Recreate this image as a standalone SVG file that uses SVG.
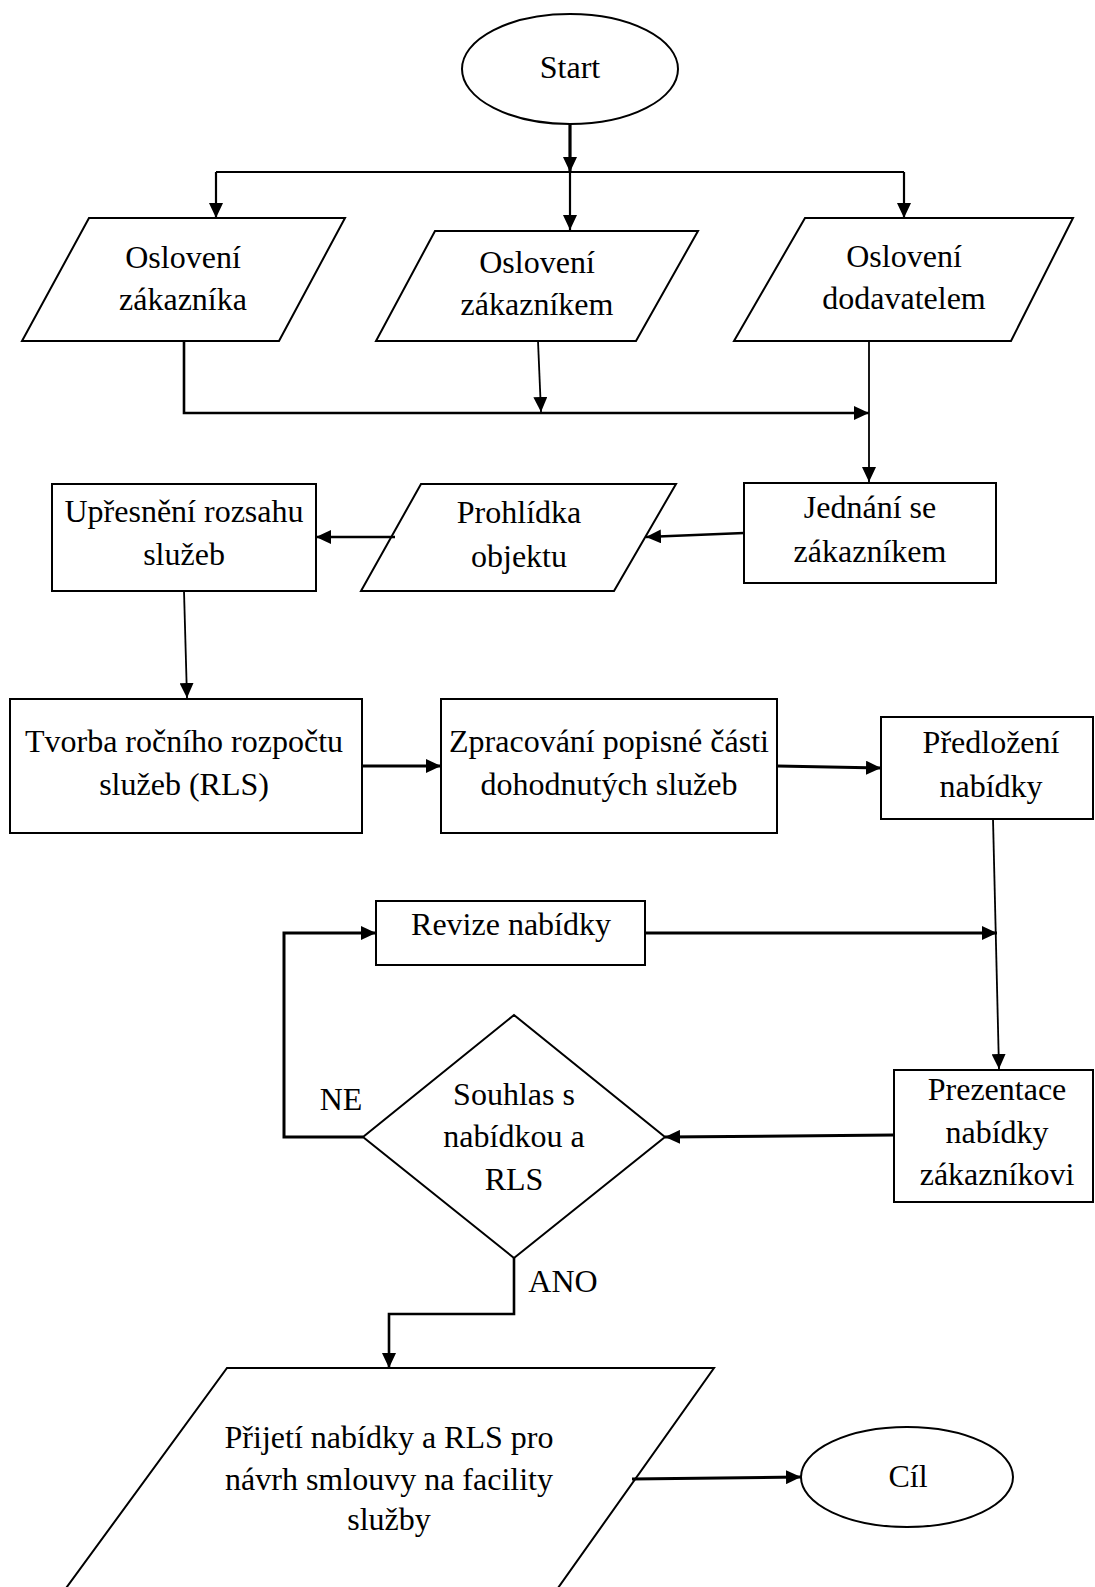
<svg xmlns="http://www.w3.org/2000/svg" width="1095" height="1587" viewBox="0 0 1095 1587">
<style>
.s{fill:#fff;stroke:#000;stroke-width:2}
.t{font-family:"Liberation Serif","Times New Roman",serif;font-size:32px;fill:#000;text-anchor:middle}
.c{fill:none;stroke:#000;stroke-width:2.6}
.n{fill:none;stroke:#000;stroke-width:1.8}
</style>
<defs>
<marker id="a" markerUnits="userSpaceOnUse" markerWidth="16" markerHeight="14" refX="15" refY="7" orient="auto">
<path d="M0,0 L15,7 L0,14 z" fill="#000"/>
</marker>
</defs>
<rect width="1095" height="1587" fill="#fff"/>
<g id="start"><ellipse class="s" cx="570" cy="69" rx="108" ry="55"/><text class="t" x="570" y="78">Start</text></g>
<g id="osloveni-zakaznika"><polygon class="s" points="89,218 345,218 279,341 22,341"/><text class="t" x="183" y="268">Oslovení</text><text class="t" x="183" y="310">zákazníka</text></g>
<g id="osloveni-zakaznikem"><polygon class="s" points="435,231 698,231 636,341 376,341"/><text class="t" x="537" y="273">Oslovení</text><text class="t" x="537" y="315">zákazníkem</text></g>
<g id="osloveni-dodavatelem"><polygon class="s" points="805,218 1073,218 1011,341 734,341"/><text class="t" x="904" y="267">Oslovení</text><text class="t" x="904" y="309">dodavatelem</text></g>
<g id="jednani"><rect class="s" x="744" y="483" width="252" height="100"/><text class="t" x="870" y="518">Jednání se</text><text class="t" x="870" y="562">zákazníkem</text></g>
<g id="prohlidka"><polygon class="s" points="421,484 676,484 614,591 361,591"/><text class="t" x="519" y="523">Prohlídka</text><text class="t" x="519" y="567">objektu</text></g>
<g id="upresneni"><rect class="s" x="52" y="484" width="264" height="107"/><text class="t" x="184" y="522">Upřesnění rozsahu</text><text class="t" x="184" y="565">služeb</text></g>
<g id="tvorba"><rect class="s" x="10" y="699" width="352" height="134"/><text class="t" x="184" y="752">Tvorba ročního rozpočtu</text><text class="t" x="184" y="795">služeb (RLS)</text></g>
<g id="zpracovani"><rect class="s" x="441" y="699" width="336" height="134"/><text class="t" x="609" y="752">Zpracování popisné části</text><text class="t" x="609" y="795">dohodnutých služeb</text></g>
<g id="predlozeni"><rect class="s" x="881" y="717" width="212" height="102"/><text class="t" x="991" y="753">Předložení</text><text class="t" x="991" y="797">nabídky</text></g>
<g id="revize"><rect class="s" x="376" y="901" width="269" height="64"/><text class="t" x="511" y="935">Revize nabídky</text></g>
<g id="souhlas"><polygon class="s" points="514,1015 665,1137 514,1258 363,1137"/><text class="t" x="514" y="1105">Souhlas s</text><text class="t" x="514" y="1147">nabídkou a</text><text class="t" x="514" y="1190">RLS</text></g>
<g id="prezentace"><rect class="s" x="894" y="1070" width="199" height="132"/><text class="t" x="997" y="1100">Prezentace</text><text class="t" x="997" y="1143">nabídky</text><text class="t" x="997" y="1185">zákazníkovi</text></g>
<g id="prijeti"><polygon class="s" points="227,1368 714,1368 553,1595 61,1595"/><text class="t" x="389" y="1448">Přijetí nabídky a RLS pro</text><text class="t" x="389" y="1490">návrh smlouvy na facility</text><text class="t" x="389" y="1530">služby</text></g>
<g id="cil"><ellipse class="s" cx="907" cy="1477" rx="106" ry="50"/><text class="t" x="908" y="1487">Cíl</text></g>
<g id="labels"><text class="t" x="341" y="1110">NE</text><text class="t" x="563" y="1292">ANO</text></g>
<g id="connectors">
<path class="c" style="stroke-width:3.2" d="M570,124 V172" marker-end="url(#a)"/>
<path class="c" style="stroke-width:2.2" d="M216,172 H904"/>
<path class="c" style="stroke-width:2.2" d="M216,172 V218" marker-end="url(#a)"/>
<path class="c" style="stroke-width:2.2" d="M570,172 V230" marker-end="url(#a)"/>
<path class="c" style="stroke-width:2.2" d="M904,172 V218" marker-end="url(#a)"/>
<path class="c" d="M184,341 V413 H869" marker-end="url(#a)"/>
<path class="n" d="M538,341 L541,412" marker-end="url(#a)"/>
<path class="n" d="M869,341 V482" marker-end="url(#a)"/>
<path class="c" d="M744,533 L646,537" marker-end="url(#a)"/>
<path class="c" d="M395,537 L316,537" marker-end="url(#a)"/>
<path class="n" d="M184,591 L187,698" marker-end="url(#a)"/>
<path class="c" style="stroke-width:3" d="M362,766 L441,766" marker-end="url(#a)"/>
<path class="c" style="stroke-width:3" d="M777,766 L881,768" marker-end="url(#a)"/>
<path class="n" d="M993,819 L999,1069" marker-end="url(#a)"/>
<path class="c" style="stroke-width:3" d="M645,933 L997,933" marker-end="url(#a)"/>
<path class="c" style="stroke-width:3" d="M363,1137 H284 V933 H376" marker-end="url(#a)"/>
<path class="c" style="stroke-width:3" d="M894,1135 L665,1137" marker-end="url(#a)"/>
<path class="c" d="M514,1258 V1314 H389 V1368" marker-end="url(#a)"/>
<path class="c" style="stroke-width:3" d="M632,1479 L801,1477" marker-end="url(#a)"/>
</g>
</svg>
